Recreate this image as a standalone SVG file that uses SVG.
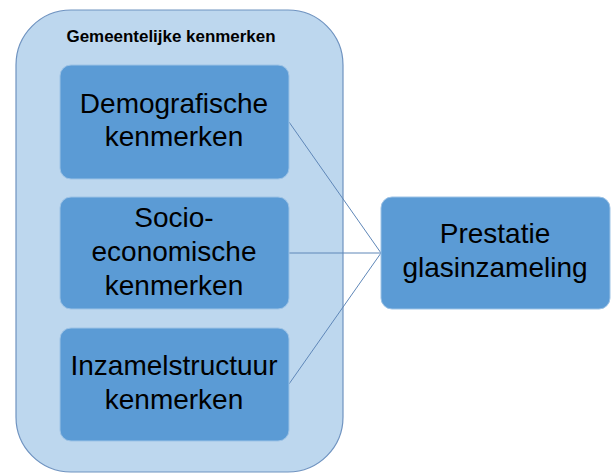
<svg xmlns="http://www.w3.org/2000/svg" width="615" height="473" viewBox="0 0 615 473">
<style>
.box{fill:#5B9BD5;stroke:#9DC3E6;stroke-width:1}
.t{font-family:"Liberation Sans",Arial,sans-serif;font-size:28px;fill:#000;text-anchor:middle}
.h{font-family:"Liberation Sans",Arial,sans-serif;font-size:16px;font-weight:bold;fill:#000;text-anchor:middle}
.c{stroke:#5F87B8;stroke-width:1;fill:none}
</style>
<rect width="615" height="473" fill="#fff"/>
<g id="group">
<rect x="16" y="10" width="327" height="462" rx="55" ry="55" fill="#BDD7EE" stroke="#6F93C0" stroke-width="1.2"/>
<text class="h" x="171" y="42" textLength="209" lengthAdjust="spacingAndGlyphs">Gemeentelijke kenmerken</text>
</g>
<g id="connectors">
<line class="c" x1="289" y1="122" x2="381" y2="253"/>
<line class="c" x1="289" y1="253" x2="381" y2="253"/>
<line class="c" x1="289" y1="384" x2="381" y2="253"/>
</g>
<g id="demo">
<rect class="box" x="60" y="65" width="229" height="114" rx="11"/>
<text class="t" x="174" y="113">Demografische</text>
<text class="t" x="174" y="146">kenmerken</text>
</g>
<g id="socio">
<rect class="box" x="60" y="197" width="229" height="112" rx="11"/>
<text class="t" x="174" y="227">Socio-</text>
<text class="t" x="174" y="261">economische</text>
<text class="t" x="174" y="295">kenmerken</text>
</g>
<g id="inzamel">
<rect class="box" x="60" y="328" width="229" height="113" rx="11"/>
<text class="t" x="174" y="375">Inzamelstructuur</text>
<text class="t" x="174" y="409">kenmerken</text>
</g>
<g id="prestatie">
<rect class="box" x="381" y="197" width="229" height="112" rx="11"/>
<text class="t" x="495" y="243">Prestatie</text>
<text class="t" x="495" y="277">glasinzameling</text>
</g>
</svg>
